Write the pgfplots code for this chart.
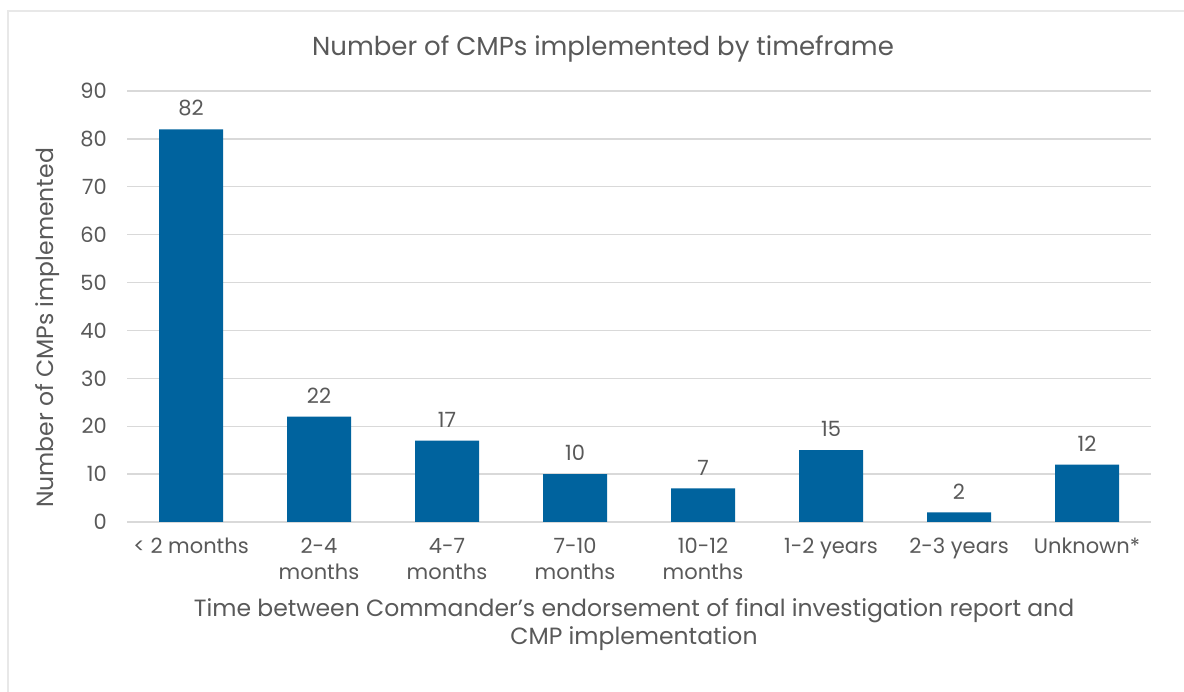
\documentclass[border=0pt]{standalone}
\usepackage{pgfplots}
\pgfplotsset{compat=1.18}
\usepackage{fontspec}
\setmainfont{Poppins}
\definecolor{barblue}{RGB}{0,99,158}
\definecolor{txt}{RGB}{89,89,89}
\definecolor{gridc}{RGB}{217,217,217}
\definecolor{framec}{RGB}{232,232,232}
\begin{document}
\begin{tikzpicture}[x=1bp,y=1bp]
\path[use as bounding box, fill=white] (0,0) rectangle (1184,692);
\draw[framec, line width=1.5bp] (8,0) -- (8,681) -- (1184,681);
\begin{axis}[
  at={(127bp,170bp)}, anchor=south west,
  scale only axis, width=1024bp, height=431bp,
  xmin=-0.5, xmax=7.5, ymin=0, ymax=90,
  ytick={0,10,...,90},
  xtick=data,
  xticklabels={{< 2 months},{2-4\\months},{4-7\\months},{7-10\\months},{10-12\\months},{1-2 years},{2-3 years},{Unknown*}},
  ymajorgrids,
  grid style={gridc, line width=1.3bp},
  axis x line*=bottom, axis y line*=left,
  x axis line style={gridc, line width=1.3bp},
  y axis line style={draw=none},
  major tick length=0pt,
  tick style={draw=none},
  /pgf/number format/assume math mode=true,
  ticklabel style={font=\fontsize{21bp}{26bp}\selectfont, text=txt},
  yticklabel style={inner sep=0pt, xshift=-20bp},
  xticklabel style={align=center, inner sep=0pt, yshift=-16bp},
  nodes near coords,
  every node near coord/.style={font=\fontsize{21bp}{24bp}\selectfont, text=txt, anchor=south, inner sep=0pt, yshift=13bp},
]
\addplot[ybar, bar width=64bp, fill=barblue, draw=none] coordinates {
(0,82) (1,22) (2,17) (3,10) (4,7) (5,15) (6,2) (7,12)};
\end{axis}
\node[text=txt, font=\fontsize{26bp}{30bp}\selectfont] at (603,643) {Number of CMPs implemented by timeframe};
\node[text=txt, font=\fontsize{23.5bp}{28bp}\selectfont, rotate=90] at (48,364) {Number of CMPs implemented};
\node[text=txt, font=\fontsize{23.5bp}{28bp}\selectfont, align=center] at (634,67) {Time between Commander’s endorsement of final investigation report and\\CMP implementation};
\end{tikzpicture}
\end{document}
